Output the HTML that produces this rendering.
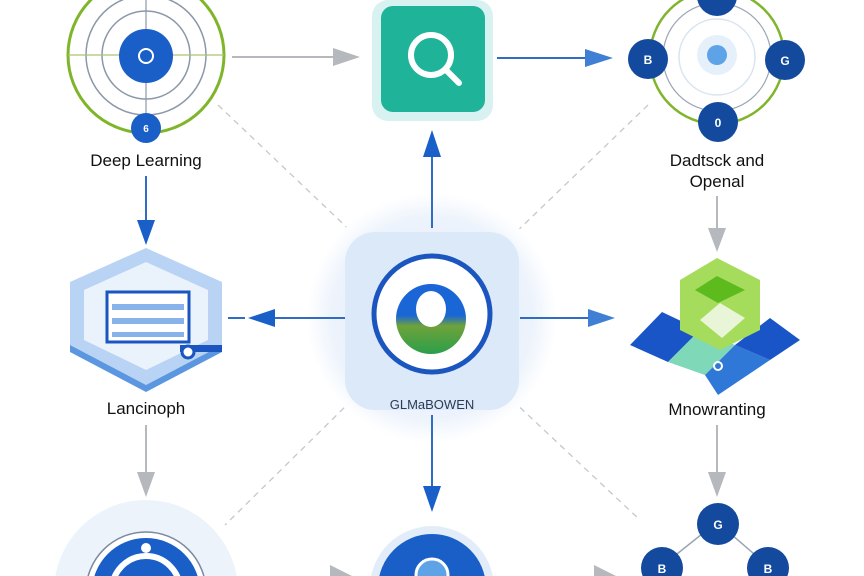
<!DOCTYPE html>
<html><head><meta charset="utf-8"><style>
html,body{margin:0;padding:0;background:#fff;width:864px;height:576px;overflow:hidden;}
svg{display:block;font-family:"Liberation Sans",sans-serif;}
</style></head><body>
<svg width="864" height="576" viewBox="0 0 864 576" xmlns="http://www.w3.org/2000/svg">
<defs>
<radialGradient id="glow" cx="50%" cy="50%" r="50%">
<stop offset="0" stop-color="#e3eefa"/><stop offset="0.8" stop-color="#edf3fc"/><stop offset="1" stop-color="#fff"/>
</radialGradient>
<linearGradient id="og" x1="0" y1="0" x2="0" y2="1">
<stop offset="0.45" stop-color="#1a66d6"/><stop offset="0.6" stop-color="#6fa23a"/><stop offset="1" stop-color="#2a9f4a"/>
</linearGradient>
</defs>
<g stroke="#c4c8cc" stroke-width="1.3" stroke-dasharray="6,5" fill="none">
<line x1="218" y1="105" x2="358" y2="238"/>
<line x1="648" y1="105" x2="510" y2="238"/>
<line x1="352" y1="400" x2="225" y2="525"/>
<line x1="512" y1="400" x2="640" y2="520"/>
</g>
<circle cx="432" cy="318" r="125" fill="url(#glow)"/>
<circle cx="146" cy="55" r="78" fill="none" stroke="#7fb52a" stroke-width="3"/>
<circle cx="146" cy="55" r="60" fill="none" stroke="#8b98a8" stroke-width="1.5"/>
<circle cx="146" cy="55" r="44" fill="none" stroke="#8b98a8" stroke-width="1.5"/>
<line x1="68" y1="55" x2="224" y2="55" stroke="#a9c46e" stroke-width="1.2"/>
<line x1="146" y1="0" x2="146" y2="115" stroke="#8b98a8" stroke-width="1.2"/>
<circle cx="146" cy="56" r="27" fill="#1a5fc8"/>
<circle cx="146" cy="56" r="7" fill="none" stroke="#fff" stroke-width="2"/>
<circle cx="146" cy="128" r="15" fill="#1a5fc8"/>
<text x="146" y="132" font-size="10" fill="#fff" text-anchor="middle" font-weight="bold">6</text>
<text x="146" y="166" font-size="17" fill="#111" text-anchor="middle">Deep Learning</text>
<rect x="372" y="0" width="121" height="121" rx="16" fill="#d8f2f1"/>
<rect x="381" y="6" width="104" height="106" rx="12" fill="#1fb39a"/>
<circle cx="431" cy="55" r="20" fill="none" stroke="#fff" stroke-width="6"/>
<line x1="446" y1="70" x2="459" y2="83" stroke="#fff" stroke-width="6" stroke-linecap="round"/>
<line x1="232" y1="57" x2="340" y2="57" stroke="#b5b8bc" stroke-width="2"/>
<polygon points="360,57 333,48 333,66" fill="#b5b8bc"/>
<line x1="497" y1="58" x2="592" y2="58" stroke="#2f6cc2" stroke-width="2"/>
<polygon points="613,58 585,49 585,67" fill="#3f7fd4"/>
<circle cx="717" cy="57" r="67" fill="none" stroke="#7fb52a" stroke-width="2.5"/>
<circle cx="717" cy="57" r="54" fill="none" stroke="#9aa6b4" stroke-width="1.2"/>
<circle cx="717" cy="57" r="38" fill="none" stroke="#d9e4ef" stroke-width="1.5"/>
<circle cx="717" cy="55" r="20" fill="#e6f0fb"/>
<circle cx="717" cy="55" r="10" fill="#5ea3e8"/>
<g fill="#134a9e">
<circle cx="648" cy="59" r="20"/><circle cx="785" cy="60" r="20"/><circle cx="718" cy="122" r="20"/><circle cx="717" cy="-4" r="20"/>
</g>
<g fill="#fff" font-size="12" font-weight="bold" text-anchor="middle">
<text x="648" y="64">B</text><text x="785" y="65">G</text><text x="718" y="127">0</text>
</g>
<text x="717" y="166" font-size="17" fill="#111" text-anchor="middle">Dadtsck and</text>
<text x="717" y="187" font-size="17" fill="#111" text-anchor="middle">Openal</text>
<line x1="146" y1="176" x2="146" y2="225" stroke="#2f6cc2" stroke-width="2"/>
<polygon points="146,245 137,220 155,220" fill="#1a5fc8"/>
<line x1="717" y1="196" x2="717" y2="232" stroke="#b5b8bc" stroke-width="2"/>
<polygon points="717,252 708,228 726,228" fill="#b5b8bc"/>
<line x1="432" y1="228" x2="432" y2="150" stroke="#2f6cc2" stroke-width="2"/>
<polygon points="432,130 423,157 441,157" fill="#1a5fc8"/>
<line x1="432" y1="415" x2="432" y2="490" stroke="#2f6cc2" stroke-width="2"/>
<polygon points="432,512 423,486 441,486" fill="#1a5fc8"/>
<line x1="146" y1="425" x2="146" y2="475" stroke="#b5b8bc" stroke-width="2"/>
<polygon points="146,497 137,472 155,472" fill="#b5b8bc"/>
<line x1="717" y1="425" x2="717" y2="475" stroke="#b5b8bc" stroke-width="2"/>
<polygon points="717,497 708,472 726,472" fill="#b5b8bc"/>
<line x1="345" y1="318" x2="268" y2="318" stroke="#2f6cc2" stroke-width="2"/>
<polygon points="248,318 275,309 275,327" fill="#1a5fc8"/>
<line x1="228" y1="318" x2="245" y2="318" stroke="#2f6cc2" stroke-width="2"/>
<line x1="520" y1="318" x2="595" y2="318" stroke="#2f6cc2" stroke-width="2"/>
<polygon points="615,318 588,309 588,327" fill="#3f7fd4"/>
<rect x="345" y="232" width="174" height="178" rx="30" fill="#dce9f9"/>
<circle cx="432" cy="314" r="58" fill="#fff" stroke="#1a55c0" stroke-width="5"/>
<circle cx="431" cy="319" r="35" fill="url(#og)"/>
<ellipse cx="431" cy="309" rx="15" ry="18" fill="#fff"/>
<text x="432" y="409" font-size="13" fill="#2b3b55" text-anchor="middle">GLMaBOWEN</text>
<polygon points="146,248 222,282 222,345 146,385 70,345 70,282" fill="#b8d3f3"/>
<polygon points="146,262 208,290 208,340 146,370 84,340 84,290" fill="#eaf2fc"/>
<polygon points="70,345 146,385 222,345 222,352 146,392 70,352" fill="#5b96e0"/>
<polygon points="180,345 222,345 222,352 180,352" fill="#1a55c0"/>
<rect x="107" y="292" width="82" height="50" fill="#fff" stroke="#1a55c0" stroke-width="3"/>
<rect x="112" y="304" width="72" height="6" fill="#88b3ea"/>
<rect x="112" y="318" width="72" height="6" fill="#88b3ea"/>
<rect x="112" y="332" width="72" height="5" fill="#88b3ea"/>
<circle cx="188" cy="352" r="6" fill="#fff" stroke="#1a55c0" stroke-width="3"/>
<text x="146" y="414" font-size="17" fill="#111" text-anchor="middle">Lancinoph</text>
<polygon points="630,345 662,312 700,330 668,362" fill="#1a55c8"/>
<polygon points="668,362 700,330 735,345 705,375" fill="#7fd8b8"/>
<polygon points="705,375 735,345 770,360 718,395" fill="#2f78d8"/>
<polygon points="735,345 770,318 800,340 770,360" fill="#1a55c8"/>
<polygon points="680,280 717,258 760,280 760,330 720,350 680,330" fill="#a6dc5c"/>
<polygon points="695,290 717,276 745,290 718,303" fill="#5dbb1e"/>
<polygon points="700,320 720,303 745,318 722,338" fill="#e8f5d6"/>
<circle cx="718" cy="366" r="4" fill="none" stroke="#fff" stroke-width="2"/>
<text x="717" y="415" font-size="17" fill="#111" text-anchor="middle">Mnowranting</text>
<circle cx="146" cy="592" r="92" fill="#edf3fb"/>
<circle cx="146" cy="592" r="60" fill="#fff" stroke="#7a8aa0" stroke-width="1.5"/>
<circle cx="146" cy="592" r="54" fill="#1a5fc8"/>
<path d="M112,590 A34,34 0 0 1 180,590" fill="none" stroke="#fff" stroke-width="6"/>
<circle cx="146" cy="548" r="5" fill="#fff"/>
<circle cx="432" cy="588" r="62" fill="#e2edf9"/>
<circle cx="432" cy="588" r="54" fill="#1a5fc8"/>
<circle cx="432" cy="575" r="16" fill="#5ea3e8" stroke="#fff" stroke-width="3"/>
<polygon points="330,565 352,576 330,576" fill="#b5b8bc"/>
<polygon points="594,565 616,576 594,576" fill="#b5b8bc"/>
<line x1="717" y1="522" x2="662" y2="566" stroke="#9aa6b4" stroke-width="1.5"/>
<line x1="717" y1="522" x2="768" y2="566" stroke="#9aa6b4" stroke-width="1.5"/>
<circle cx="718" cy="524" r="21" fill="#134a9e"/>
<circle cx="662" cy="568" r="21" fill="#134a9e"/>
<circle cx="768" cy="568" r="21" fill="#134a9e"/>
<g fill="#fff" font-size="12" font-weight="bold" text-anchor="middle">
<text x="718" y="529">G</text><text x="662" y="573">B</text><text x="768" y="573">B</text>
</g>
</svg>
</body></html>
